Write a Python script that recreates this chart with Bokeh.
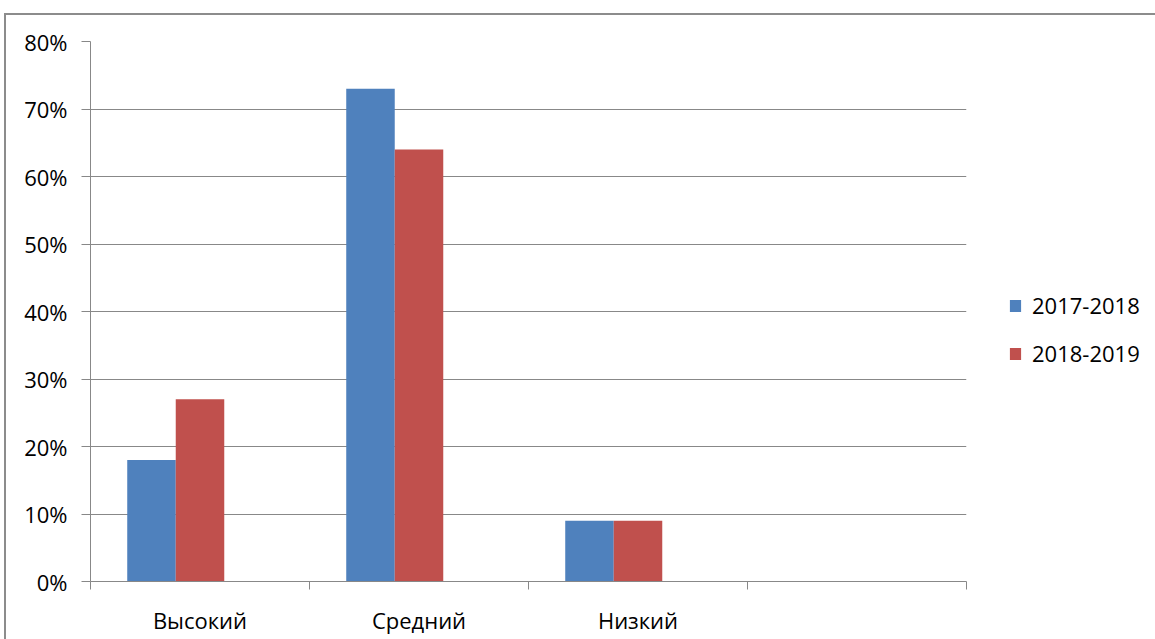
from bokeh.plotting import figure
from bokeh.models import (FixedTicker, Legend, LegendItem, ColumnDataSource,
                          NumeralTickFormatter, Range1d)
from bokeh.transform import dodge
from bokeh.embed import file_html
from bokeh.resources import INLINE

categories = ["Высокий", "Средний", "Низкий", ""]
series_names = ["2017-2018", "2018-2019"]
values_2017_2018 = [0.18, 0.73, 0.09]
values_2018_2019 = [0.27, 0.64, 0.09]
y_ticks = [0, 0.1, 0.2, 0.3, 0.4, 0.5, 0.6, 0.7, 0.8]

blue = "#4F81BD"
red = "#C0504D"
grey = "#888888"
FONT = "Open Sans"
FS = "22px"

pos = [i + 0.5 for i in range(len(values_2017_2018))]
src = ColumnDataSource(dict(x=pos, a=values_2017_2018, b=values_2018_2019))

OX, OY = 6, 15           # canvas origin on the page (after margin + border)
W, H = 1149, 624
FL, FR, FT, FB = 90 - OX, 966 - OX, 41 - OY, 581 - OY

p = figure(frame_width=FR - FL, frame_height=FB - FT,
           output_backend="svg", toolbar_location=None,
           x_range=Range1d(0, len(categories)), y_range=Range1d(0, 0.8),
           min_border_left=FL, min_border_right=W - FR,
           min_border_top=FT, min_border_bottom=H - FB)
p.styles = {"margin-left": "4px", "margin-top": "13px",
            "border-left": "2px solid #8c8c8c", "border-top": "2px solid #8c8c8c"}
p.outline_line_color = None
p.background_fill_color = "white"
p.border_fill_color = "white"

bw = 0.2215
r1 = p.vbar(x=dodge("x", -bw), top="a", width=bw, source=src,
            fill_color=blue, line_color=None)
r2 = p.vbar(x=dodge("x", 0), top="b", width=bw, source=src,
            fill_color=red, line_color=None)

# y axis
ya = p.yaxis[0]
ya.ticker = FixedTicker(ticks=y_ticks)
ya.formatter = NumeralTickFormatter(format="0%")
ya.axis_line_color = grey
ya.major_tick_line_color = grey
ya.major_tick_out = 9
ya.major_tick_in = 0
ya.minor_tick_line_color = None
ya.major_label_standoff = 14
ya.major_label_text_font = FONT
ya.major_label_text_font_size = FS
ya.major_label_text_color = "black"

# x axis: ticks at category boundaries, labels at centres
xa = p.xaxis[0]
xa.ticker = FixedTicker(ticks=[i + 0.5 for i in range(len(categories))],
                        minor_ticks=list(range(len(categories) + 1)))
xa.major_label_overrides = {i + 0.5: c for i, c in enumerate(categories)}
xa.axis_line_color = grey
xa.major_tick_line_color = None
xa.major_tick_out = 0
xa.major_tick_in = 0
xa.minor_tick_line_color = grey
xa.minor_tick_out = 8
xa.minor_tick_in = 0
xa.major_label_standoff = 15
xa.major_label_text_font = FONT
xa.major_label_text_font_size = FS
xa.major_label_text_color = "black"

p.xgrid.visible = False
p.ygrid.ticker = FixedTicker(ticks=y_ticks)
p.ygrid.grid_line_color = grey

legend = Legend(items=[LegendItem(label=series_names[0], renderers=[r1]),
                       LegendItem(label=series_names[1], renderers=[r2])],
                location=(42, 213), padding=0, margin=0,
                border_line_color=None, background_fill_alpha=0,
                glyph_width=14, glyph_height=15, label_standoff=10,
                label_height=20, spacing=18,
                label_text_font=FONT, label_text_font_size=FS,
                label_text_color="black")
p.add_layout(legend, "right")

open("out.html", "w").write(file_html(p, INLINE))
